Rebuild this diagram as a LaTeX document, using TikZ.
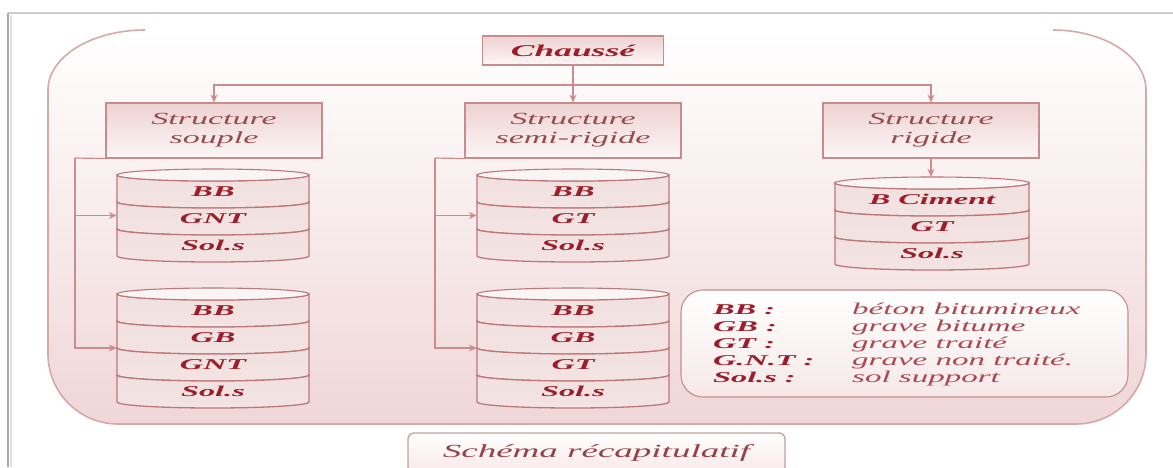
\documentclass[tikz,border=0pt]{standalone}
\usepackage{fontspec}
\setmainfont{Liberation Serif}
\newfontfamily\bifont{Liberation Serif}[FakeStretch=2.15]
\newfontfamily\itfontx{Liberation Serif}[FakeStretch=2.0]
\usetikzlibrary{arrows.meta}
\definecolor{dred}{RGB}{155,30,42}
\definecolor{mred}{RGB}{150,75,80}
\definecolor{lred}{RGB}{172,70,80}
\definecolor{boxedge}{RGB}{200,140,140}
\definecolor{connc}{RGB}{205,140,140}
\definecolor{pinkA}{RGB}{238,210,210}
\definecolor{pinkB}{RGB}{252,246,246}
\definecolor{bgpink}{RGB}{240,214,215}
\definecolor{rowA}{RGB}{242,224,224}
\definecolor{rowM}{RGB}{252,247,247}
\definecolor{rowB}{RGB}{243,227,227}
\definecolor{rowedge}{RGB}{190,120,122}
\definecolor{topfill}{RGB}{250,245,245}
\definecolor{bigedge}{RGB}{215,168,168}
\definecolor{frameA}{RGB}{170,170,170}
\definecolor{frameB}{RGB}{205,205,205}

\newcommand{\cylstack}[6]{% name, L, R, e0, nrows, labels
  \pgfmathsetmacro{\cL}{#2}\pgfmathsetmacro{\cR}{#3}
  \pgfmathsetmacro{\cX}{(#2+#3)/2}\pgfmathsetmacro{\cK}{0.552*(#3-#2)/2}
  \pgfmathsetmacro{\cRx}{(#3-#2)/2}
  \foreach \lab [count=\i] in {#6} {
    \pgfmathsetmacro{\ya}{#4+(\i-1)*27}
    \pgfmathsetmacro{\yb}{#4+\i*27}
    \shadedraw[rowstyle] (\cL,\ya) -- (\cL,\yb)
      .. controls (\cL,\yb+3.3) and (\cX-\cK,\yb+6) .. (\cX,\yb+6)
      .. controls (\cX+\cK,\yb+6) and (\cR,\yb+3.3) .. (\cR,\yb)
      -- (\cR,\ya)
      .. controls (\cR,\ya+3.3) and (\cX+\cK,\ya+6) .. (\cX,\ya+6)
      .. controls (\cX-\cK,\ya+6) and (\cL,\ya+3.3) .. (\cL,\ya) -- cycle;
    \node[cyltxt] (#1-\i) at (\cX,{(\ya+\yb)/2+3}) {\lab};
  }
  \draw[draw=rowedge, line width=1.1pt, fill=topfill] (\cX,#4) ellipse [x radius=\cRx, y radius=6];
  \node[inner sep=0pt, minimum width={(#3-#2)*1pt}, minimum height={(#5*27+12)*1pt}] (#1) at (\cX,{#4+#5*13.5}) {};
}

\begin{document}
\begin{tikzpicture}[x=1pt,y=-1pt,
  boxstyle/.style={draw=boxedge, line width=1.1pt, top color=pinkA, bottom color=pinkB, inner sep=0pt},
  chbox/.style={boxstyle, minimum width=181pt, minimum height=29pt,
     font=\bifont\bfseries\itshape\fontsize{16.5}{18}\selectfont, text=dred},
  stbox/.style={boxstyle, minimum width=216pt, minimum height=55pt, align=center,
     font=\itfontx\itshape\fontsize{17}{19}\selectfont, text=mred},
  connline/.style={draw=connc, line width=1.2pt},
  arr/.style={connline, -{Stealth[length=8pt,width=7pt]}},
  rowstyle/.style={draw=rowedge, line width=1.3pt, top color=rowA, middle color=rowM, bottom color=rowB},
  cyltxt/.style={font=\bifont\bfseries\itshape\fontsize{15}{16}\selectfont, text=dred},
  legkey/.style={anchor=base west, inner sep=0pt, font=\bifont\bfseries\itshape\fontsize{15}{16}\selectfont, text=dred},
  legval/.style={anchor=base west, inner sep=0pt, font=\itfontx\itshape\fontsize{16.5}{17}\selectfont, text=lred}
]
\useasboundingbox (0,0) rectangle (1173,467);
\clip (0,0) rectangle (1173,467);
\fill[white] (0,0) rectangle (1173,467);

% outer grey frame
\draw[frameB, line width=1.5pt] (8,13) -- (1173,13);
\draw[frameA, line width=2pt] (8,467) -- (8,13);
\draw[frameB!60, line width=1.5pt] (11,467) -- (11,15);

% big rounded panel
\shade[top color=white, bottom color=bgpink]
  (145,30) .. controls (91.5,30) and (48,56.9) .. (48,90) -- (48,354)
  .. controls (48,392.6) and (79.4,424) .. (118,424) -- (1076,424)
  .. controls (1114.6,424) and (1146,392.6) .. (1146,354) -- (1146,90)
  .. controls (1146,56.9) and (1104.3,30) .. (1053,30) -- cycle;
\draw[bigedge, line width=1.6pt]
  (1053,30) .. controls (1104.3,30) and (1146,56.9) .. (1146,90) -- (1146,354)
  .. controls (1146,392.6) and (1114.6,424) .. (1076,424) -- (118,424)
  .. controls (79.4,424) and (48,392.6) .. (48,354) -- (48,90)
  .. controls (48,56.9) and (91.5,30) .. (145,30);

% boxes
\node[chbox] (chausse) at (573,50.5) {Chaussé};
\node[stbox] (souple) at (214,130.5) {Structure\\souple};
\node[stbox] (semi) at (573,130.5) {Structure\\semi-rigide};
\node[stbox] (rigide) at (931,130.5) {Structure\\rigide};

% cylinders
\cylstack{cs1}{117}{309}{175}{3}{BB,GNT,Sol.s}
\cylstack{cs2}{117}{309}{294}{4}{BB,GB,GNT,Sol.s}
\cylstack{cm1}{477}{669}{175}{3}{BB,GT,Sol.s}
\cylstack{cm2}{477}{669}{294}{4}{BB,GB,GT,Sol.s}
\cylstack{cr}{835}{1029}{183}{3}{B Ciment,GT,Sol.s}

% top connectors
\coordinate (hub) at (573,85);
\draw[arr] (chausse.south) -- (semi.north);
\draw[arr] (hub) -| (souple.north);
\draw[arr] (hub) -| (rigide.north);
\draw[arr] (rigide.south) -- (rigide.south |- cr.north);

% side connectors
\coordinate (sj) at (75,158);
\draw[connline] (souple.south west) -- (sj);
\draw[arr] (sj) |- (cs2.west);
\draw[arr] (sj |- cs1.west) -- (cs1.west);
\coordinate (mj) at (435,158);
\draw[connline] (semi.south west) -- (mj);
\draw[arr] (mj) |- (cm2.west);
\draw[arr] (mj |- cm1.west) -- (cm1.west);

% legend
\node[draw=boxedge, line width=1.1pt, rounded corners=22pt, minimum width=447pt, minimum height=107pt,
      top color=white, bottom color={rgb,255:red,246;green,232;blue,232}] (legend) at (904.5,343.5) {};
\node[legkey] (k1) at (713,314) {BB :};
\node[legkey] (k2) at (713,331) {GB :};
\node[legkey] (k3) at (713,348) {GT :};
\node[legkey] (k4) at (713,365) {G.N.T :};
\node[legkey] (k5) at (713,382) {Sol.s :};
\node[legval] (v1) at (852,314) {béton bitumineux};
\node[legval] (v2) at (852,331) {grave bitume};
\node[legval] (v3) at (852,348) {grave traité};
\node[legval] (v4) at (852,365) {grave non traité.};
\node[legval] (v5) at (852,382) {sol support};

% caption
\node[draw={rgb,255:red,195;green,160;blue,160}, line width=1.3pt, rounded corners=6pt,
      minimum width=377pt, minimum height=40pt, top color=white, bottom color={rgb,255:red,248;green,232;blue,232},
      font=\itfontx\itshape\fontsize{18.5}{20}\selectfont, text={rgb,255:red,150;green,65;blue,70}]
      (caption) at (596.5,453) {Schéma récapitulatif\hspace{23pt}};
\end{tikzpicture}
\end{document}
